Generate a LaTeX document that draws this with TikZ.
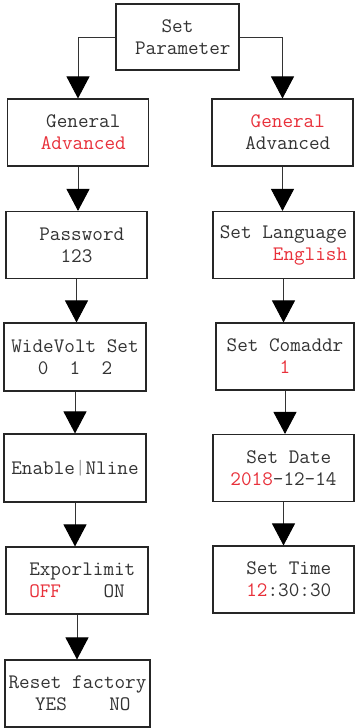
\documentclass[tikz,border=0pt]{standalone}
\usepackage{fontspec}
\usetikzlibrary{arrows.meta,positioning}
\definecolor{ink}{HTML}{333333}
\definecolor{hot}{HTML}{E8303A}

\begin{document}
\begin{tikzpicture}[x=1bp,y=-1bp,
  menubox/.style={draw=black!85,line width=1.1bp,inner sep=0pt,align=center,
    minimum width=141bp,minimum height=67bp,text=ink,
    font=\ttfamily\fontsize{20.6bp}{22bp}\selectfont},
  flow/.style={draw=black!80,line width=0.9bp,-{Triangle[length=22bp,width=23bp,color=black]}}]
  \useasboundingbox (0,0) rectangle (355,728);
  % top
  \node[menubox,minimum width=123bp,minimum height=66bp] (setpar) at (177.5,37) {Set\\~Parameter};
  % left column
  \node[menubox] (genl) at (78,132.5) {~General\\~{\color{hot}Advanced}};
  \node[menubox] (pwd) at (76.5,245) {~Password\\123};
  \node[menubox,minimum width=142bp,minimum height=68bp] (wide) at (75,357) {WideVolt Set\\0~~1~~2~};
  \node[menubox,minimum width=142bp,minimum height=68bp] (enable) at (75,468) {Enable{\color{black!35}|}Nline};
  \node[menubox,minimum width=142bp] (expo) at (77,580.5) {~Exporlimit\\{\color{hot}OFF}~~~~ON};
  \node[menubox,minimum width=145bp] (reset) at (77.5,693.5) {Reset factory\\~YES~~~~NO};
  % right column
  \node[menubox] (genr) at (282.5,132.5) {~{\color{hot}General}\\~Advanced};
  \node[menubox] (lang) at (283.5,245) {Set Language\\~~~~~{\color{hot}English}};
  \node[menubox,minimum width=138bp] (comaddr) at (285,356.5) {Set Comaddr\\{\color{hot}1}};
  \node[menubox] (date) at (283.5,468) {~Set Date\\{\color{hot}2018}-12-14};
  \node[menubox] (time) at (283.5,579.5) {~Set Time\\~{\color{hot}12}:30:30};
  % connectors
  \draw[flow] (setpar.west) -| (genl.north);
  \draw[flow] (setpar.east) -| (genr.north);
  \draw[flow] (genl.south) -- (genl.south |- pwd.north);
  \draw[flow] (pwd.south) -- (pwd.south |- wide.north);
  \draw[flow] (wide.south) -- (wide.south |- enable.north);
  \draw[flow] (enable.south) -- (enable.south |- expo.north);
  \draw[flow] (expo.south) -- (expo.south |- reset.north);
  \draw[flow] (genr.south) -- (genr.south |- lang.north);
  \draw[flow] (lang.south) -- (lang.south |- comaddr.north);
  \draw[flow] (comaddr.south) -- (comaddr.south |- date.north);
  \draw[flow] (date.south) -- (date.south |- time.north);
\end{tikzpicture}
\end{document}
